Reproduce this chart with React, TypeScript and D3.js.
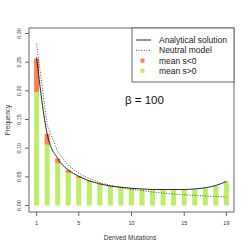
import * as d3 from 'd3';

// number of derived mutations (x)
const mutations = d3.range(1, 20);
// bar heights, mean s>0 (green) and the s<0 part stacked on top (orange)
const meanPos = [0.198, 0.106, 0.074, 0.057, 0.048, 0.041, 0.036, 0.033, 0.031, 0.029, 0.028, 0.0275, 0.0272, 0.027, 0.027, 0.028, 0.030, 0.034, 0.042];
const meanNeg = [0.058, 0.019, 0.008, 0.005, 0.003, 0.002, 0.0015, 0.001, 0.001, 0.0007, 0.0005, 0.0004, 0.0003, 0.0003, 0.0002, 0.0002, 0.0002, 0.0001, 0.0001];
// curves
const analytical = [0.258, 0.125, 0.082, 0.062, 0.051, 0.043, 0.038, 0.034, 0.032, 0.030, 0.029, 0.028, 0.028, 0.028, 0.028, 0.029, 0.031, 0.035, 0.042];
const neutral = [0.282, 0.141, 0.094, 0.070, 0.056, 0.047, 0.040, 0.035, 0.031, 0.028, 0.026, 0.0235, 0.0217, 0.0201, 0.0188, 0.0176, 0.0166, 0.0157, 0.0149];
// axis ticks
const xTicks = [1, 5, 10, 15, 19];
const yTicks = [0, 0.05, 0.1, 0.15, 0.2, 0.25, 0.3];
const legendLabels = ['Analytical solution', 'Neutral model', 'mean s<0', 'mean s>0'];

const GREEN = '#BCEE68';
const ORANGE = '#FF7F50';
const FONT = 'Liberation Sans, Arial, sans-serif';

export default function App() {
  const left = 29, right = 234, top = 28, bottom = 212;

  const x = d3.scaleLinear().domain([0.28, 19.72]).range([left, right]);
  const y = d3.scaleLinear().domain([-0.0113, 0.3096]).range([bottom, top]);

  const analyticalLine = d3
    .line<number>()
    .x((_, i) => x(mutations[i]))
    .y((d) => y(d))
    .curve(d3.curveMonotoneX);

  const neutralLine = d3
    .line<number>()
    .x((_, i) => x(mutations[i]))
    .y((d) => y(d));

  const barW = 5;
  const legX = 132, legY = top, legW = right - 132, legH = 54;
  const rowY = (i: number) => 40 + i * 10.3;

  return (
    <svg
      width={249}
      height={249}
      style={{ position: 'absolute', left: 0, top: 0, background: '#fff' }}
      fontFamily={FONT}
    >
      {/* bars */}
      {mutations.map((m, i) => (
        <g key={m}>
          <rect
            x={x(m) - barW / 2}
            y={y(meanPos[i])}
            width={barW}
            height={y(0) - y(meanPos[i])}
            fill={GREEN}
          />
          <rect
            x={x(m) - barW / 2}
            y={y(meanPos[i] + meanNeg[i])}
            width={barW}
            height={y(meanPos[i]) - y(meanPos[i] + meanNeg[i])}
            fill={ORANGE}
          />
        </g>
      ))}

      {/* lines */}
      <path d={neutralLine(neutral) ?? ''} fill="none" stroke="#333" strokeWidth={0.9} strokeDasharray="1,1.6" />
      <path d={analyticalLine(analytical) ?? ''} fill="none" stroke="#111" strokeWidth={0.9} />

      {/* box */}
      <rect x={left} y={top} width={right - left} height={bottom - top} fill="none" stroke="#666" strokeWidth={1} />

      {/* x axis */}
      {xTicks.map((t) => (
        <g key={t}>
          <line x1={x(t)} x2={x(t)} y1={bottom} y2={bottom + 4} stroke="#666" />
          <text x={x(t)} y={225} fontSize={5.5} textAnchor="middle" fill="#333">
            {t}
          </text>
        </g>
      ))}
      <text x={130} y={240} fontSize={6.5} textAnchor="middle" fill="#333">
        Derived Mutations
      </text>

      {/* y axis */}
      {yTicks.map((t) => (
        <g key={t}>
          <line x1={left - 4} x2={left} y1={y(t)} y2={y(t)} stroke="#666" />
          <text
            transform={`translate(20.5,${y(t)}) rotate(-90)`}
            fontSize={5.5}
            textAnchor="middle"
            fill="#333"
          >
            {t.toFixed(2)}
          </text>
        </g>
      ))}
      <text
        transform={`translate(9.5,${(top + bottom) / 2}) rotate(-90)`}
        fontSize={6.5}
        textAnchor="middle"
        fill="#333"
      >
        Frequency
      </text>

      {/* legend */}
      <rect x={legX} y={legY} width={legW} height={legH} fill="#fff" stroke="#666" strokeWidth={1} />
      <line x1={136} x2={151} y1={rowY(0)} y2={rowY(0)} stroke="#111" strokeWidth={0.9} />
      <line x1={136} x2={151} y1={rowY(1)} y2={rowY(1)} stroke="#333" strokeWidth={0.9} strokeDasharray="1,1.6" />
      <rect x={140.5} y={rowY(2) - 2} width={4} height={4} fill={ORANGE} />
      <rect x={140.5} y={rowY(3) - 2} width={4} height={4} fill={GREEN} />
      {legendLabels.map((l, i) => (
        <text key={l} x={159} y={rowY(i) + 3} fontSize={8.5} fill="#222">
          {l}
        </text>
      ))}

      {/* beta annotation */}
      <text x={125} y={104} fontSize={11.5} fill="#111">
        β = 100
      </text>
    </svg>
  );
}
